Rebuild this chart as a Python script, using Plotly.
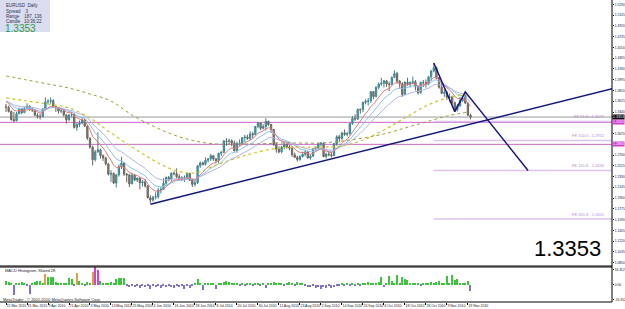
import plotly.graph_objects as go
import pandas as pd

# ---------------- data ----------------
# daily EURUSD candles, 22 Mar 2010 .. 24 Nov 2010 (bar index 0..177)
opens = [1.3530,1.3520,1.3450,1.3310,1.3290,1.3410,1.3485,1.3430,1.3510,1.3540,
 1.3490,1.3475,1.3385,1.3365,1.3360,1.3490,1.3615,1.3625,1.3635,1.3535,
 1.3510,1.3455,1.3460,1.3390,1.3305,1.3390,1.3395,1.3175,1.3225,1.3250,
 1.3300,1.3200,1.2990,1.2835,1.2620,1.2755,1.2790,1.2690,1.2650,1.2550,
 1.2370,1.2385,1.2220,1.2360,1.2500,1.2565,1.2375,1.2360,1.2205,1.2355,
 1.2270,1.2305,1.2225,1.2240,1.2170,1.1965,1.1925,1.1975,1.1985,1.2100,
 1.2110,1.2215,1.2315,1.2290,1.2390,1.2380,1.2325,1.2290,1.2305,1.2310,
 1.2385,1.2265,1.2195,1.2225,1.2515,1.2565,1.2540,1.2610,1.2635,1.2690,
 1.2635,1.2605,1.2730,1.2745,1.2940,1.2935,1.2945,1.2905,1.2775,1.2900,
 1.2905,1.3000,1.3010,1.2985,1.3065,1.3050,1.3190,1.3250,1.3160,1.3190,
 1.3280,1.3225,1.3140,1.2875,1.2800,1.2755,1.2840,1.2885,1.2840,1.2820,
 1.2705,1.2660,1.2625,1.2675,1.2715,1.2755,1.2650,1.2680,1.2810,1.2820,
 1.2895,1.2905,1.2675,1.2715,1.2705,1.2690,1.2895,1.3015,1.2985,1.3080,
 1.3055,1.3070,1.3240,1.3330,1.3320,1.3485,1.3480,1.3605,1.3625,1.3630,
 1.3790,1.3705,1.3865,1.3920,1.3935,1.3975,1.3920,1.3915,1.4035,1.4100,
 1.3970,1.3925,1.3740,1.3950,1.3925,1.3945,1.3960,1.3880,1.3770,1.3950,
 1.3945,1.3930,1.4045,1.4145,1.4200,1.4030,1.3865,1.3760,1.3775,1.3690,
 1.3700,1.3600,1.3485,1.3545,1.3640,1.3720,1.3595,1.3385]
highs = [1.3580,1.3550,1.3460,1.3440,1.3440,1.3505,1.3500,1.3530,1.3590,1.3550,
 1.3520,1.3485,1.3420,1.3410,1.3510,1.3693,1.3660,1.3690,1.3660,1.3550,
 1.3520,1.3510,1.3470,1.3400,1.3400,1.3440,1.3420,1.3250,1.3295,1.3345,
 1.3325,1.3210,1.3000,1.2860,1.2790,1.3094,1.2810,1.2710,1.2670,1.2560,
 1.2440,1.2400,1.2370,1.2540,1.2673,1.2570,1.2390,1.2375,1.2390,1.2375,
 1.2310,1.2320,1.2270,1.2290,1.2180,1.2010,1.2000,1.2060,1.2140,1.2150,
 1.2300,1.2330,1.2340,1.2400,1.2420,1.2470,1.2370,1.2340,1.2350,1.2390,
 1.2390,1.2290,1.2270,1.2530,1.2590,1.2590,1.2660,1.2650,1.2720,1.2700,
 1.2640,1.2740,1.2770,1.2960,1.2990,1.2980,1.2970,1.2950,1.2930,1.2970,
 1.3010,1.3050,1.3050,1.3110,1.3100,1.3200,1.3260,1.3260,1.3230,1.3333,
 1.3290,1.3240,1.3150,1.2920,1.2850,1.2860,1.2920,1.2900,1.2870,1.2830,
 1.2740,1.2690,1.2700,1.2760,1.2780,1.2770,1.2710,1.2820,1.2850,1.2910,
 1.2920,1.2910,1.2740,1.2770,1.2750,1.2910,1.3040,1.3050,1.3100,1.3140,
 1.3100,1.3260,1.3370,1.3400,1.3500,1.3500,1.3620,1.3660,1.3680,1.3800,
 1.3800,1.3880,1.3950,1.4030,1.3990,1.3990,1.3960,1.4050,1.4157,1.4130,
 1.3990,1.3950,1.3970,1.4030,1.3970,1.4050,1.3990,1.3890,1.3960,1.3990,
 1.4000,1.4060,1.4160,1.4282,1.4220,1.4040,1.3960,1.3830,1.3800,1.3760,
 1.3720,1.3620,1.3580,1.3700,1.3720,1.3786,1.3610,1.3410]
lows = [1.3440,1.3430,1.3290,1.3267,1.3280,1.3400,1.3400,1.3420,1.3490,1.3460,
 1.3440,1.3370,1.3330,1.3310,1.3350,1.3480,1.3570,1.3580,1.3510,1.3440,
 1.3410,1.3420,1.3360,1.3240,1.3290,1.3350,1.3155,1.3115,1.3180,1.3230,
 1.3180,1.2960,1.2810,1.2520,1.2590,1.2740,1.2640,1.2600,1.2520,1.2350,
 1.2235,1.2200,1.2143,1.2330,1.2460,1.2340,1.2230,1.2150,1.2200,1.2250,
 1.2235,1.2110,1.2160,1.2140,1.1960,1.1876,1.1900,1.1940,1.1950,1.2040,
 1.2100,1.2180,1.2250,1.2240,1.2350,1.2300,1.2260,1.2250,1.2240,1.2280,
 1.2260,1.2150,1.2160,1.2200,1.2480,1.2520,1.2520,1.2570,1.2600,1.2600,
 1.2560,1.2560,1.2680,1.2730,1.2860,1.2880,1.2850,1.2760,1.2740,1.2860,
 1.2880,1.2920,1.2960,1.2960,1.2990,1.3040,1.3160,1.3130,1.3140,1.3120,
 1.3200,1.3080,1.2860,1.2740,1.2730,1.2730,1.2800,1.2810,1.2780,1.2670,
 1.2650,1.2588,1.2600,1.2660,1.2680,1.2640,1.2620,1.2670,1.2780,1.2800,
 1.2850,1.2660,1.2640,1.2680,1.2660,1.2680,1.2860,1.2920,1.2960,1.3030,
 1.3020,1.3040,1.3220,1.3290,1.3300,1.3410,1.3440,1.3570,1.3550,1.3600,
 1.3660,1.3690,1.3830,1.3890,1.3860,1.3870,1.3800,1.3900,1.4020,1.3930,
 1.3840,1.3700,1.3730,1.3890,1.3860,1.3920,1.3810,1.3740,1.3760,1.3870,
 1.3860,1.3900,1.3980,1.4120,1.4000,1.3840,1.3750,1.3700,1.3650,1.3620,
 1.3570,1.3446,1.3450,1.3530,1.3610,1.3580,1.3370,1.3312]
closes = [1.3520,1.3450,1.3310,1.3290,1.3410,1.3485,1.3430,1.3510,1.3540,1.3490,
 1.3475,1.3385,1.3365,1.3360,1.3490,1.3615,1.3625,1.3635,1.3535,1.3510,
 1.3455,1.3460,1.3390,1.3305,1.3390,1.3395,1.3175,1.3225,1.3250,1.3300,
 1.3200,1.2990,1.2835,1.2620,1.2755,1.2790,1.2690,1.2650,1.2550,1.2370,
 1.2385,1.2220,1.2360,1.2500,1.2565,1.2375,1.2360,1.2205,1.2355,1.2270,
 1.2305,1.2225,1.2240,1.2170,1.1965,1.1925,1.1975,1.1985,1.2100,1.2110,
 1.2215,1.2315,1.2290,1.2390,1.2380,1.2325,1.2290,1.2305,1.2310,1.2385,
 1.2265,1.2195,1.2225,1.2515,1.2565,1.2540,1.2610,1.2635,1.2690,1.2635,
 1.2605,1.2730,1.2745,1.2940,1.2935,1.2945,1.2905,1.2775,1.2900,1.2905,
 1.3000,1.3010,1.2985,1.3065,1.3050,1.3190,1.3250,1.3160,1.3190,1.3280,
 1.3225,1.3140,1.2875,1.2800,1.2755,1.2840,1.2885,1.2840,1.2820,1.2705,
 1.2660,1.2625,1.2675,1.2715,1.2755,1.2650,1.2680,1.2810,1.2820,1.2895,
 1.2905,1.2675,1.2715,1.2705,1.2690,1.2895,1.3015,1.2985,1.3080,1.3055,
 1.3070,1.3240,1.3330,1.3320,1.3485,1.3480,1.3605,1.3625,1.3630,1.3790,
 1.3705,1.3865,1.3920,1.3935,1.3975,1.3920,1.3915,1.4035,1.4100,1.3970,
 1.3925,1.3740,1.3950,1.3925,1.3945,1.3960,1.3880,1.3770,1.3950,1.3945,
 1.3930,1.4045,1.4145,1.4200,1.4030,1.3865,1.3760,1.3775,1.3690,1.3700,
 1.3600,1.3485,1.3545,1.3640,1.3670,1.3595,1.3385,1.3353]
# closes before the first shown bar (22 Feb .. 19 Mar 2010), used only to warm up the EMAs
warmup_closes = [1.3600,1.3520,1.3510,1.3520,1.3630,1.3545,1.3620,1.3700,1.3615,1.3630,
 1.3630,1.3590,1.3665,1.3745,1.3760,1.3660,1.3760,1.3760,1.3615,1.3530]

ma_sample_bars = [0,8,16,24,32,40,48,56,64,72,80,88,96,104,112,120,128,136,144,152,160,168,176]
ma_slow = [1.4059,1.3990,1.3921,1.3852,1.3749,1.3629,1.3388,1.3199,1.3045,1.2942,1.2890,1.2890,
 1.2890,1.2907,1.2907,1.2907,1.2942,1.2993,1.3062,1.3165,1.3268,1.3371,1.3440]
ma_mid = [1.3681,1.3629,1.3577,1.3509,1.3337,1.3079,1.2838,1.2615,1.2443,1.2392,1.2529,1.2649,
 1.2752,1.2821,1.2838,1.2838,1.2856,1.2959,1.3131,1.3337,1.3543,1.3681,1.3749]

# histogram sub-window values
hist = [4,3,1,-11,1,2,3,1,-1,-10,
 1,3,4,4,2,11,8,8,8,3,
 2,1,1,1,7,6,-1,13,4,1,
 -2,3,1,14,19,16,4,1,2,2,
 3,2,6,7,7,7,-2,-3,-2,-3,
 -2,-4,-2,-3,-2,-5,-2,-3,-1,-4,
 -2,-3,-2,-3,-4,-2,-3,-2,-5,-2,
 -4,-1,1,6,1,-6,1,2,1,1,
 -5,1,1,3,4,3,1,1,1,-1,
 1,-1,1,1,-1,1,1,-1,1,-4,
 1,1,3,2,2,1,-1,1,3,1,
 -1,3,2,2,-2,-3,-3,-2,-4,-3,
 -5,-3,-4,-2,-4,-3,-2,-1,1,-2,
 1,-1,1,-2,2,-2,1,2,3,1,
 1,2,3,8,-3,2,9,4,1,10,
 2,8,6,5,2,2,1,1,-2,2,
 1,1,3,2,3,4,2,1,9,2,
 10,5,6,2,1,1,4,-7]
hist_orange = [15,27,33]
hist_magenta = [34,35]

date_labels = ["22 Mar 2010","31 Mar 2010","9 Apr 2010","21 Apr 2010","3 May 2010","13 May 2010",
 "25 May 2010","4 Jun 2010","16 Jun 2010","28 Jun 2010","8 Jul 2010","20 Jul 2010","30 Jul 2010",
 "11 Aug 2010","23 Aug 2010","2 Sep 2010","14 Sep 2010","24 Sep 2010","6 Oct 2010","18 Oct 2010",
 "28 Oct 2010","9 Nov 2010","19 Nov 2010"]
date_label_bars = [0,8,16,24,32,40,48,56,64,72,80,88,96,104,112,120,128,136,144,152,160,168,176]

price_ticks = [1.0850,1.1035,1.1220,1.1405,1.1590,1.1775,1.1960,1.2145,1.2330,1.2515,1.2700,
 1.2885,1.3070,1.3255,1.3440,1.3625,1.3810,1.3995,1.4180,1.4365,1.4550,1.4735,1.4920,1.5105,1.5290]

bid = 1.3353
level_lines = [1.3262, 1.2884]
fe_start_bar = 163
fe_levels = [1.3277, 1.2952, 1.2436, 1.1601]
fe_names = ["FE 61.8", "FE 100.0", "FE 161.8", "FE 261.8"]

trend_x = [55, 231]
trend_y = [1.1855, 1.3840]
wave_x = [163, 171, 175, 198.9]
wave_y = [1.4282, 1.3446, 1.3786, 1.2436]

# ---------------- figure ----------------
N = len(closes)
bars = list(range(N))
XR = [-2.29, 230.9]

allc = pd.Series(warmup_closes + closes)
W = len(warmup_closes)
ema_a = allc.ewm(span=8, adjust=False).mean().iloc[W:].tolist()
ema_b = allc.ewm(span=13, adjust=False).mean().iloc[W:].tolist()
ema_c = allc.ewm(span=21, adjust=False).mean().iloc[W:].tolist()

fig = go.Figure()

for vals, col in [(ema_c, "#b4b4e4"), (ema_b, "#8cc0ec"), (ema_a, "#e07a7a")]:
    fig.add_trace(go.Scatter(x=bars, y=vals, mode="lines", line=dict(color=col, width=1),
                             hoverinfo="skip", showlegend=False))
fig.add_trace(go.Scatter(x=ma_sample_bars, y=ma_slow, mode="lines", line_shape="spline",
                         line=dict(color="#9c9c3c", width=1, dash="dot"), showlegend=False))
fig.add_trace(go.Scatter(x=ma_sample_bars, y=ma_mid, mode="lines", line_shape="spline",
                         line=dict(color="#cfc22a", width=1.2, dash="dot"), showlegend=False))

fig.add_trace(go.Candlestick(x=bars, open=opens, high=highs, low=lows, close=closes,
    increasing=dict(line=dict(color="#3d8590", width=1), fillcolor="#3fb3c6"),
    decreasing=dict(line=dict(color="#6c635b", width=1), fillcolor="#918577"),
    whiskerwidth=0, showlegend=False, hoverinfo="skip"))

fig.add_trace(go.Scatter(x=trend_x, y=trend_y, mode="lines", line=dict(color="#15157f", width=1.5),
                         showlegend=False))
fig.add_trace(go.Scatter(x=wave_x, y=wave_y, mode="lines", line=dict(color="#15157f", width=1.5),
                         showlegend=False))

hcols = []
for i, v in enumerate(hist):
    if i in hist_magenta:
        hcols.append("#d63fd6")
    elif i in hist_orange:
        hcols.append("#e0a040")
    elif v >= 0:
        hcols.append("#3cc43c")
    else:
        hcols.append("#7e74c6")
fig.add_trace(go.Bar(x=bars, y=hist, marker=dict(color=hcols, line=dict(width=0)), width=0.45,
                     xaxis="x2", yaxis="y2", showlegend=False))

main_bottom = (302 - 266) / 302
sub_top = (302 - 267) / 302

shapes = []
shapes.append(dict(type="line", xref="paper", yref="y", x0=0, x1=1, y0=bid, y1=bid,
                   line=dict(color="#9a9a9a", width=1), layer="below"))
for lv in level_lines:
    shapes.append(dict(type="line", xref="paper", yref="y", x0=0, x1=1, y0=lv, y1=lv,
                       line=dict(color="#c868c8", width=1), layer="below"))
for lv in fe_levels:
    shapes.append(dict(type="line", xref="x", yref="y", x0=fe_start_bar, x1=XR[1], y0=lv, y1=lv,
                       line=dict(color="#dcc2ec", width=1.5), layer="below"))
# window frame lines
shapes.append(dict(type="line", xref="paper", yref="paper", x0=0, x1=1, y0=main_bottom, y1=main_bottom,
                   line=dict(color="#000000", width=1)))
shapes.append(dict(type="line", xref="paper", yref="paper", x0=0, x1=1, y0=sub_top, y1=sub_top,
                   line=dict(color="#000000", width=1)))
shapes.append(dict(type="line", xref="paper", yref="paper", x0=0, x1=1, y0=0, y1=0,
                   line=dict(color="#000000", width=1)))
shapes.append(dict(type="line", xref="paper", yref="paper", x0=1, x1=1, y0=0, y1=1,
                   line=dict(color="#000000", width=1)))
# info box
shapes.append(dict(type="rect", xref="paper", yref="paper", x0=0, x1=50/612, y0=1-32/302, y1=1,
                   fillcolor="#dadcf0", line=dict(width=0)))

# price tags on the axis cover the plain tick labels next to them
tag_values = [bid] + level_lines
shown_ticks = [v for v in price_ticks if min(abs(v - t) for t in tag_values) > 0.007]

ann = []
font_small = "Liberation Sans, Arial, sans-serif"
axis_font = dict(size=3.3, color="#222222", family=font_small)
ann.append(dict(xref="paper", yref="y", x=1.0, y=bid, xanchor="left", yanchor="middle",
                text=f"{bid:.4f}", showarrow=False, bgcolor="#000000",
                font=dict(color="white", size=3.6, family=font_small), borderpad=0))
for lv in level_lines:
    ann.append(dict(xref="paper", yref="y", x=1.0, y=lv, xanchor="left", yanchor="middle",
                    text=f"{lv:.4f}", showarrow=False, bgcolor="#d040d0",
                    font=dict(color="white", size=3.6, family=font_small), borderpad=0))
for lv, nm in zip(fe_levels, fe_names):
    ann.append(dict(xref="x", yref="y", x=XR[1] - 2, y=lv, xanchor="right", yanchor="bottom",
                    text=f"{nm} - {lv:.4f}", showarrow=False,
                    font=dict(color="#b48ad0", size=4, family=font_small)))
info_lines = ["EURUSD  Daily", "Spread    3", "Range    187, 136", "Candle   10:36:22"]
for k, t in enumerate(info_lines):
    ann.append(dict(xref="paper", yref="paper", x=4/612, y=1 - (1.5 + 5.2*k)/302, xanchor="left",
                    yanchor="top", text=t, showarrow=False,
                    font=dict(color="#333344", size=4.5, family=font_small)))
ann.append(dict(xref="paper", yref="paper", x=3/612, y=1 - 21/302, xanchor="left", yanchor="top",
                text=f"{bid:.4f}", showarrow=False,
                font=dict(color="#2e9a3e", size=10, family=font_small)))
ann.append(dict(xref="paper", yref="paper", x=603/612, y=(302 - 248)/302, xanchor="right",
                yanchor="middle", text=f"{bid:.4f}", showarrow=False,
                font=dict(color="#000000", size=22, family=font_small)))
ann.append(dict(xref="paper", yref="paper", x=3/612, y=(302 - 270)/302, xanchor="left",
                yanchor="middle", text="MACD Histogram, Slated 28", showarrow=False,
                font=dict(color="#222222", size=4, family=font_small)))
ann.append(dict(xref="paper", yref="paper", x=1/612, y=(302 - 299)/302, xanchor="left",
                yanchor="middle", text="MetaTrader - © 2001-2010 MetaQuotes Software Corp.",
                showarrow=False, font=dict(color="#222222", size=4, family=font_small)))

fig.update_layout(
    width=625, height=309,
    margin=dict(l=0, r=13, t=0, b=7, autoexpand=False),
    paper_bgcolor="white", plot_bgcolor="white",
    showlegend=False, hovermode=False, bargap=0,
    shapes=shapes, annotations=ann,
    xaxis=dict(range=XR, domain=[0, 1], anchor="y", showticklabels=False, showgrid=False,
               zeroline=False, rangeslider=dict(visible=False), ticks="", automargin=False),
    yaxis=dict(domain=[main_bottom, 1], range=[1.0793, 1.5365], side="right", showgrid=False,
               zeroline=False, tickvals=shown_ticks, ticktext=[f"{v:.4f}" for v in shown_ticks],
               tickfont=axis_font, ticks="outside",
               ticklen=1, tickcolor="#000000", automargin=False),
    xaxis2=dict(range=XR, domain=[0, 1], anchor="y2", matches="x", showgrid=False, zeroline=False,
                tickvals=date_label_bars, ticktext=date_labels, ticklabelposition="outside right",
                tickangle=0, tickfont=dict(size=3.5, color="#222222", family=font_small),
                ticks="outside", ticklen=2, tickcolor="#000000", automargin=False),
    yaxis2=dict(domain=[0, sub_top], range=[-19, 19], side="right", showgrid=False, zeroline=False,
                tickvals=[16.352, 0, -16.352], ticktext=["16.352", "0.00", "-16.352"],
                tickfont=axis_font, ticks="outside",
                ticklen=1, tickcolor="#000000", automargin=False),
)

fig.write_html("out.html")
